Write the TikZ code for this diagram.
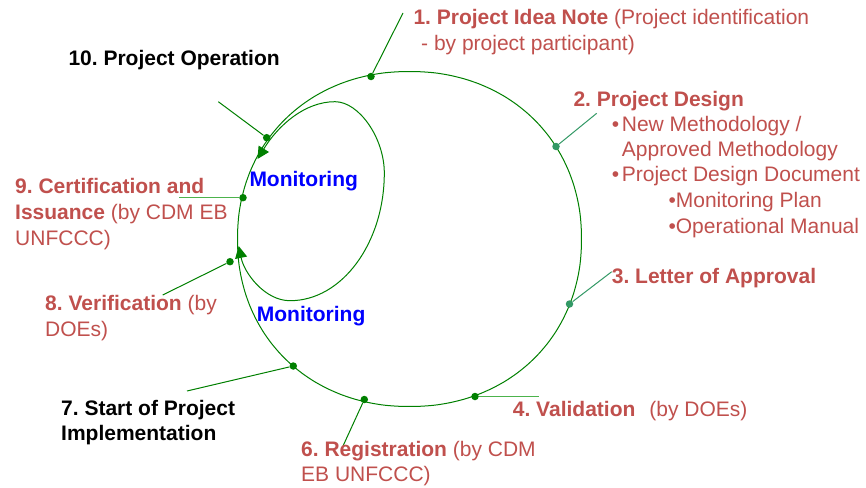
\documentclass[tikz,border=0pt]{standalone}
\usepackage{fontspec}
\setmainfont{Liberation Sans}
\frenchspacing
\usetikzlibrary{arrows.meta}
\definecolor{cdmred}{HTML}{C0504D}
\definecolor{cycgreen}{HTML}{008000}
\definecolor{tealgreen}{HTML}{339966}
\definecolor{litegreen}{HTML}{4CB34C}
\definecolor{monblue}{HTML}{0000FF}
\begin{document}
\begin{tikzpicture}[x=1pt,y=-1pt,
  lbl/.style={inner sep=0pt, anchor=base west, font=\fontsize{21}{25.5}\selectfont},
  redlbl/.style={lbl, text=cdmred},
  blklbl/.style={lbl, text=black, font=\fontsize{21}{25.5}\selectfont\bfseries},
  monlbl/.style={lbl, text=monblue, font=\fontsize{21}{25.5}\selectfont\bfseries},
  cdot/.style={circle, fill=cycgreen, inner sep=0pt, minimum size=7.5pt},
  tdot/.style={cdot, fill=tealgreen},
  cycleline/.style={draw=cycgreen, line width=1pt},
  leader/.style={draw=cycgreen, line width=1pt},
  tleader/.style={draw=tealgreen, line width=1pt},
  lleader/.style={draw=litegreen, line width=1pt},
  headtip/.style={{Triangle[length=12pt,width=12pt]}-{Triangle[length=12pt,width=12pt]}},
]
\useasboundingbox (0,0) rectangle (866,487);
\fill[white] (0,0) rectangle (866,487);

% project cycle: a slightly squarish ellipse
\draw[cycleline] plot[smooth cycle, samples=72, domain=2.5:357.5, variable=\t]
  ({409.5+172*sign(cos(\t))*abs(cos(\t))^0.952},
   {239-167.5*sign(sin(\t))*abs(sin(\t))^0.952});

% monitoring loop
\coordinate (tu) at (257.5,159);
\coordinate (itop) at (335,101.7);
\coordinate (iright) at (384.3,173);
\coordinate (ibot) at (290,300.7);
\coordinate (tl) at (238.7,246);
\draw[cycleline, headtip] (tu)
  .. controls (278.5,125) and (305,101.7) .. (itop)
  .. controls (359,101.7) and (384.3,138) .. (iright)
  .. controls (384.3,243) and (342,300.7) .. (ibot)
  .. controls (265,300.7) and (244.3,273.4) .. (tl);

% stage markers
\node[cdot] (d1) at (371,76.5) {};
\node[tdot] (d2) at (556,146.5) {};
\node[tdot] (d3) at (569.5,304) {};
\node[cdot] (d4) at (475,396.5) {};
\node[cdot] (d6) at (364.3,399.5) {};
\node[cdot] (d7) at (293.3,366) {};
\node[cdot] (d8) at (230,261.7) {};
\node[cdot] (d9) at (243,197.7) {};
\node[cdot] (d10) at (266.7,137.7) {};

% leader ends
\coordinate (e1) at (403,13);
\coordinate (e2) at (596.7,113.3);
\coordinate (e3) at (611.7,271.7);
\coordinate (e4) at (539.3,396.5);
\coordinate (e6) at (343,446);
\coordinate (e7) at (187,391);
\coordinate (e8) at (162.7,295);
\coordinate (e9) at (179,197.7);
\coordinate (e10) at (218.3,101.7);

\draw[leader] (d1) -- (e1);
\draw[tleader] (d2) -- (e2);
\draw[tleader] (d3) -- (e3);
\draw[lleader] (d4) -- (e4);
\draw[leader] (d6) -- (e6);
\draw[leader] (d7) -- (e7);
\draw[leader] (d8) -- (e8);
\draw[lleader] (d9) -- (e9);
\draw[leader] (d10) -- (e10);

% labels
\node[redlbl] (n1a) at (413.3,25) {\textbf{1. Project Idea Note} (Project identification};
\node[redlbl] (n1b) at (421,50) {- by project participant)};
\node[redlbl] (n2) at (573.3,106) {\textbf{2. Project Design}};
\node[redlbl] (n2a) at (611.7,131.7) {•\hspace{2.6pt}New Methodology /};
\node[redlbl] (n2b) at (621.7,156.7) {Approved Methodology};
\node[redlbl] (n2c) at (611.7,181.7) {•\hspace{2.6pt}Project Design Document};
\node[redlbl] (n2d) at (668.3,207.7) {•Monitoring Plan};
\node[redlbl] (n2e) at (668.3,233.3) {•Operational Manual};
\node[redlbl] (n3) at (611.7,283.3) {\textbf{3. Letter of Approval}};
\node[redlbl] (n4) at (512.7,416) {\textbf{4. Validation}\hspace{14pt}(by DOEs)};
\node[redlbl] (n6a) at (301,456) {\textbf{6. Registration} (by CDM};
\node[redlbl] (n6b) at (301,481) {EB UNFCCC)};
\node[blklbl] (n7a) at (61,415) {7. Start of Project};
\node[blklbl] (n7b) at (61,440) {Implementation};
\node[redlbl] (n8a) at (45,310.7) {\textbf{8. Verification} (by};
\node[redlbl] (n8b) at (45,336.7) {DOEs)};
\node[redlbl] (n9a) at (15,193.3) {\textbf{9. Certification and}};
\node[redlbl] (n9b) at (15,219.3) {\textbf{Issuance} (by CDM EB};
\node[redlbl] (n9c) at (15,245) {UNFCCC)};
\node[blklbl] (n10) at (68.3,65) {10. Project Operation};
\node[monlbl] (m1) at (249.3,186) {Monitoring};
\node[monlbl] (m2) at (256.7,321.7) {Monitoring};
\end{tikzpicture}
\end{document}
